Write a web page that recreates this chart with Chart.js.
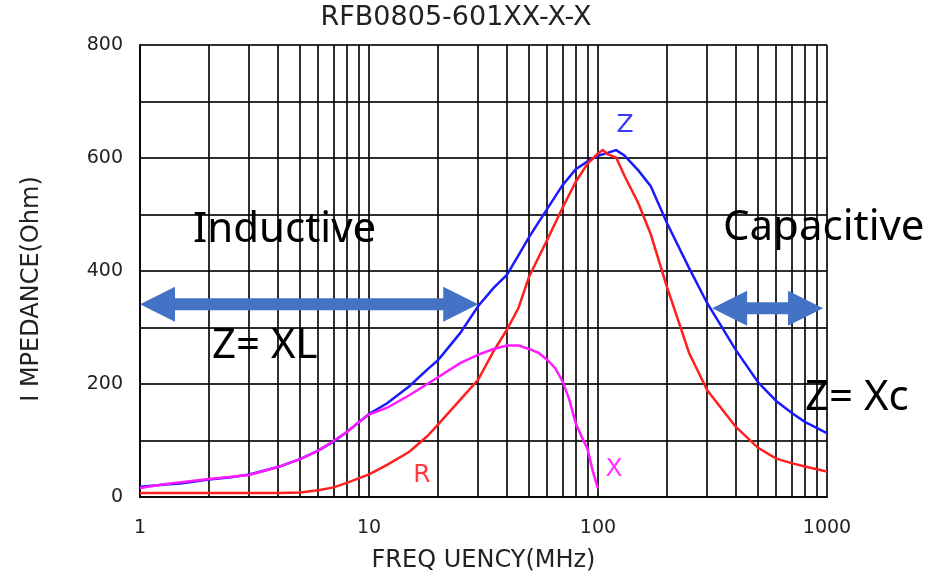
<!DOCTYPE html>
<html>
<head>
<meta charset="utf-8">
<title>RFB0805-601XX-X-X</title>
<script src="https://cdn.jsdelivr.net/npm/chart.js@4.4.1/dist/chart.umd.min.js"></script>
<style>
  html, body { margin: 0; padding: 0; background: #fff; }
  #impedance-chart { display: block; }
</style>
</head>
<body>
<canvas id="impedance-chart" width="950" height="580"></canvas>
<script>
// values (MHz / Ohm)
const zFreq = [1, 1.3, 1.5, 2, 2.5, 3, 4, 5, 6, 7, 8, 9, 10, 12, 15, 18, 20, 25, 30, 35, 40, 45, 50, 60, 70, 80, 90, 100, 110, 120, 130, 150, 170, 200, 250, 300, 400, 500, 600, 700, 800, 1000];
const zValues = [18, 22, 24, 31, 35, 40, 53, 67, 82, 98, 115, 132, 147, 166, 196, 226, 242, 290, 338, 370, 393, 428, 460, 510, 552, 580, 594, 604, 609, 614, 605, 578, 550, 485, 405, 343, 260, 203, 170, 149, 133, 113];

const rFreq = [1, 2, 3, 4, 5, 6, 7, 8, 9, 10, 12, 15, 18, 20, 25, 30, 35, 40, 45, 50, 60, 70, 80, 90, 100, 105, 110, 120, 130, 150, 170, 200, 250, 300, 400, 500, 600, 700, 800, 1000];
const rValues = [7, 7, 7, 7, 8, 12, 17, 25, 33, 40, 57, 80, 108, 128, 172, 208, 258, 296, 335, 390, 455, 512, 558, 590, 608, 614, 607, 601, 570, 520, 465, 372, 255, 189, 124, 87, 68, 60, 54, 45];

const xFreq = [1, 1.3, 2, 3, 4, 5, 6, 7, 8, 9, 10, 12, 15, 20, 25, 30, 35, 40, 45, 50, 55, 60, 65, 70, 75, 80, 85, 90, 95, 100];
const xValues = [16, 23, 32, 39, 53, 67, 82, 99, 115, 132, 146, 158, 180, 212, 237, 252, 262, 268, 268, 262, 255, 243, 228, 205, 172, 130, 106, 85, 45, 15];

const gridFreqs = [1, 2, 3, 4, 5, 6, 7, 8, 9, 10, 20, 30, 40, 50, 60, 70, 80, 90, 100, 200, 300, 400, 500, 600, 700, 800, 900, 1000];
const freqLabels = [1, 10, 100, 1000];

const textColor = "#222";
const gridColor = "rgba(0, 0, 0, 0.82)";
const arrowColor = "#4472c4";
const axisFont = "'DejaVu Sans', sans-serif";
const noteFont = "'Noto Sans', 'Open Sans', sans-serif";

function toPoints(freqs, values) {
  return freqs.map((f, i) => ({ x: f, y: values[i] }));
}

// double headed block arrow
function blockArrow(ctx, x1, x2, yc) {
  const shaft = 6, head = 17.5, len = 35;
  ctx.beginPath();
  ctx.moveTo(x1, yc);
  ctx.lineTo(x1 + len, yc - head);
  ctx.lineTo(x1 + len, yc - shaft);
  ctx.lineTo(x2 - len, yc - shaft);
  ctx.lineTo(x2 - len, yc - head);
  ctx.lineTo(x2, yc);
  ctx.lineTo(x2 - len, yc + head);
  ctx.lineTo(x2 - len, yc + shaft);
  ctx.lineTo(x1 + len, yc + shaft);
  ctx.lineTo(x1 + len, yc + head);
  ctx.closePath();
  ctx.fill();
}

const overlay = {
  id: "overlay",
  afterDraw(chart) {
    const { ctx, scales: { x, y } } = chart;
    ctx.save();

    ctx.fillStyle = textColor;
    ctx.textAlign = "center";
    ctx.textBaseline = "middle";
    ctx.font = "27px " + axisFont;
    ctx.fillText("RFB0805-601XX-X-X", 456, 18);

    ctx.save();
    ctx.translate(32, 289);
    ctx.rotate(-Math.PI / 2);
    ctx.font = "24px " + axisFont;
    ctx.fillText("I MPEDANCE(Ohm)", 0, 0);
    ctx.restore();

    // curve names
    ctx.font = "25px " + axisFont;
    ctx.fillStyle = "#3a3aff";
    ctx.fillText("Z", 625, 125);
    ctx.fillStyle = "#ff3b3b";
    ctx.fillText("R", 422, 475);
    ctx.fillStyle = "#ff33ff";
    ctx.fillText("X", 614, 469);

    // regions
    ctx.fillStyle = arrowColor;
    blockArrow(ctx, x.getPixelForValue(1), x.getPixelForValue(30), y.getPixelForValue(341));
    blockArrow(ctx, x.getPixelForValue(315), x.getPixelForValue(961), y.getPixelForValue(334));

    ctx.fillStyle = "#000";
    ctx.textAlign = "left";
    ctx.textBaseline = "alphabetic";
    ctx.font = "42px " + noteFont;
    ctx.fillText("Inductive", 193, 242);
    ctx.fillText("Capacitive", 723, 240);
    ctx.fillText("Z= XL", 212, 358);
    ctx.fillText("Z= Xc", 805, 410);

    ctx.restore();
  }
};

const ctx = document.getElementById("impedance-chart").getContext("2d");
const impedanceChart = new Chart(ctx, {
  type: "line",
  data: {
    datasets: [
      { label: "X", data: toPoints(xFreq, xValues), borderColor: "#ff1aff" },
      { label: "R", data: toPoints(rFreq, rValues), borderColor: "#ff2020" },
      { label: "Z", data: toPoints(zFreq, zValues), borderColor: "#1a1aff" },
    ],
  },
  options: {
    responsive: false,
    animation: false,
    parsing: false,
    elements: {
      point: { radius: 0 },
      line: { borderWidth: 2.5, tension: 0 },
    },
    layout: { padding: { top: 45, right: 123, bottom: 0, left: 0 } },
    plugins: {
      legend: { display: false },
      tooltip: { enabled: false },
    },
    scales: {
      x: {
        type: "logarithmic",
        min: 1,
        max: 1000,
        afterBuildTicks: (axis) => {
          axis.ticks = gridFreqs.map((v) => ({ value: v }));
        },
        afterFit: (axis) => {
          axis.height = 83;
        },
        grid: { color: gridColor, lineWidth: 2, drawTicks: false },
        border: { color: gridColor, width: 2 },
        ticks: {
          autoSkip: false,
          maxRotation: 0,
          padding: 20,
          color: textColor,
          font: { family: axisFont, size: 19 },
          callback: (v) => (freqLabels.includes(v) ? String(v) : ""),
        },
        title: {
          display: true,
          text: "FREQ UENCY(MHz)",
          color: textColor,
          font: { family: axisFont, size: 24 },
          padding: { top: 0, bottom: 5 },
        },
      },
      y: {
        min: 0,
        max: 800,
        afterFit: (axis) => {
          axis.width = 140;
        },
        grid: { color: gridColor, lineWidth: 2, drawTicks: false },
        border: { color: gridColor, width: 2 },
        ticks: {
          stepSize: 100,
          padding: 17,
          color: textColor,
          font: { family: axisFont, size: 19 },
          callback: (v) => (v % 200 === 0 ? String(v) : ""),
        },
      },
    },
  },
  plugins: [overlay],
});
</script>
</body>
</html>
